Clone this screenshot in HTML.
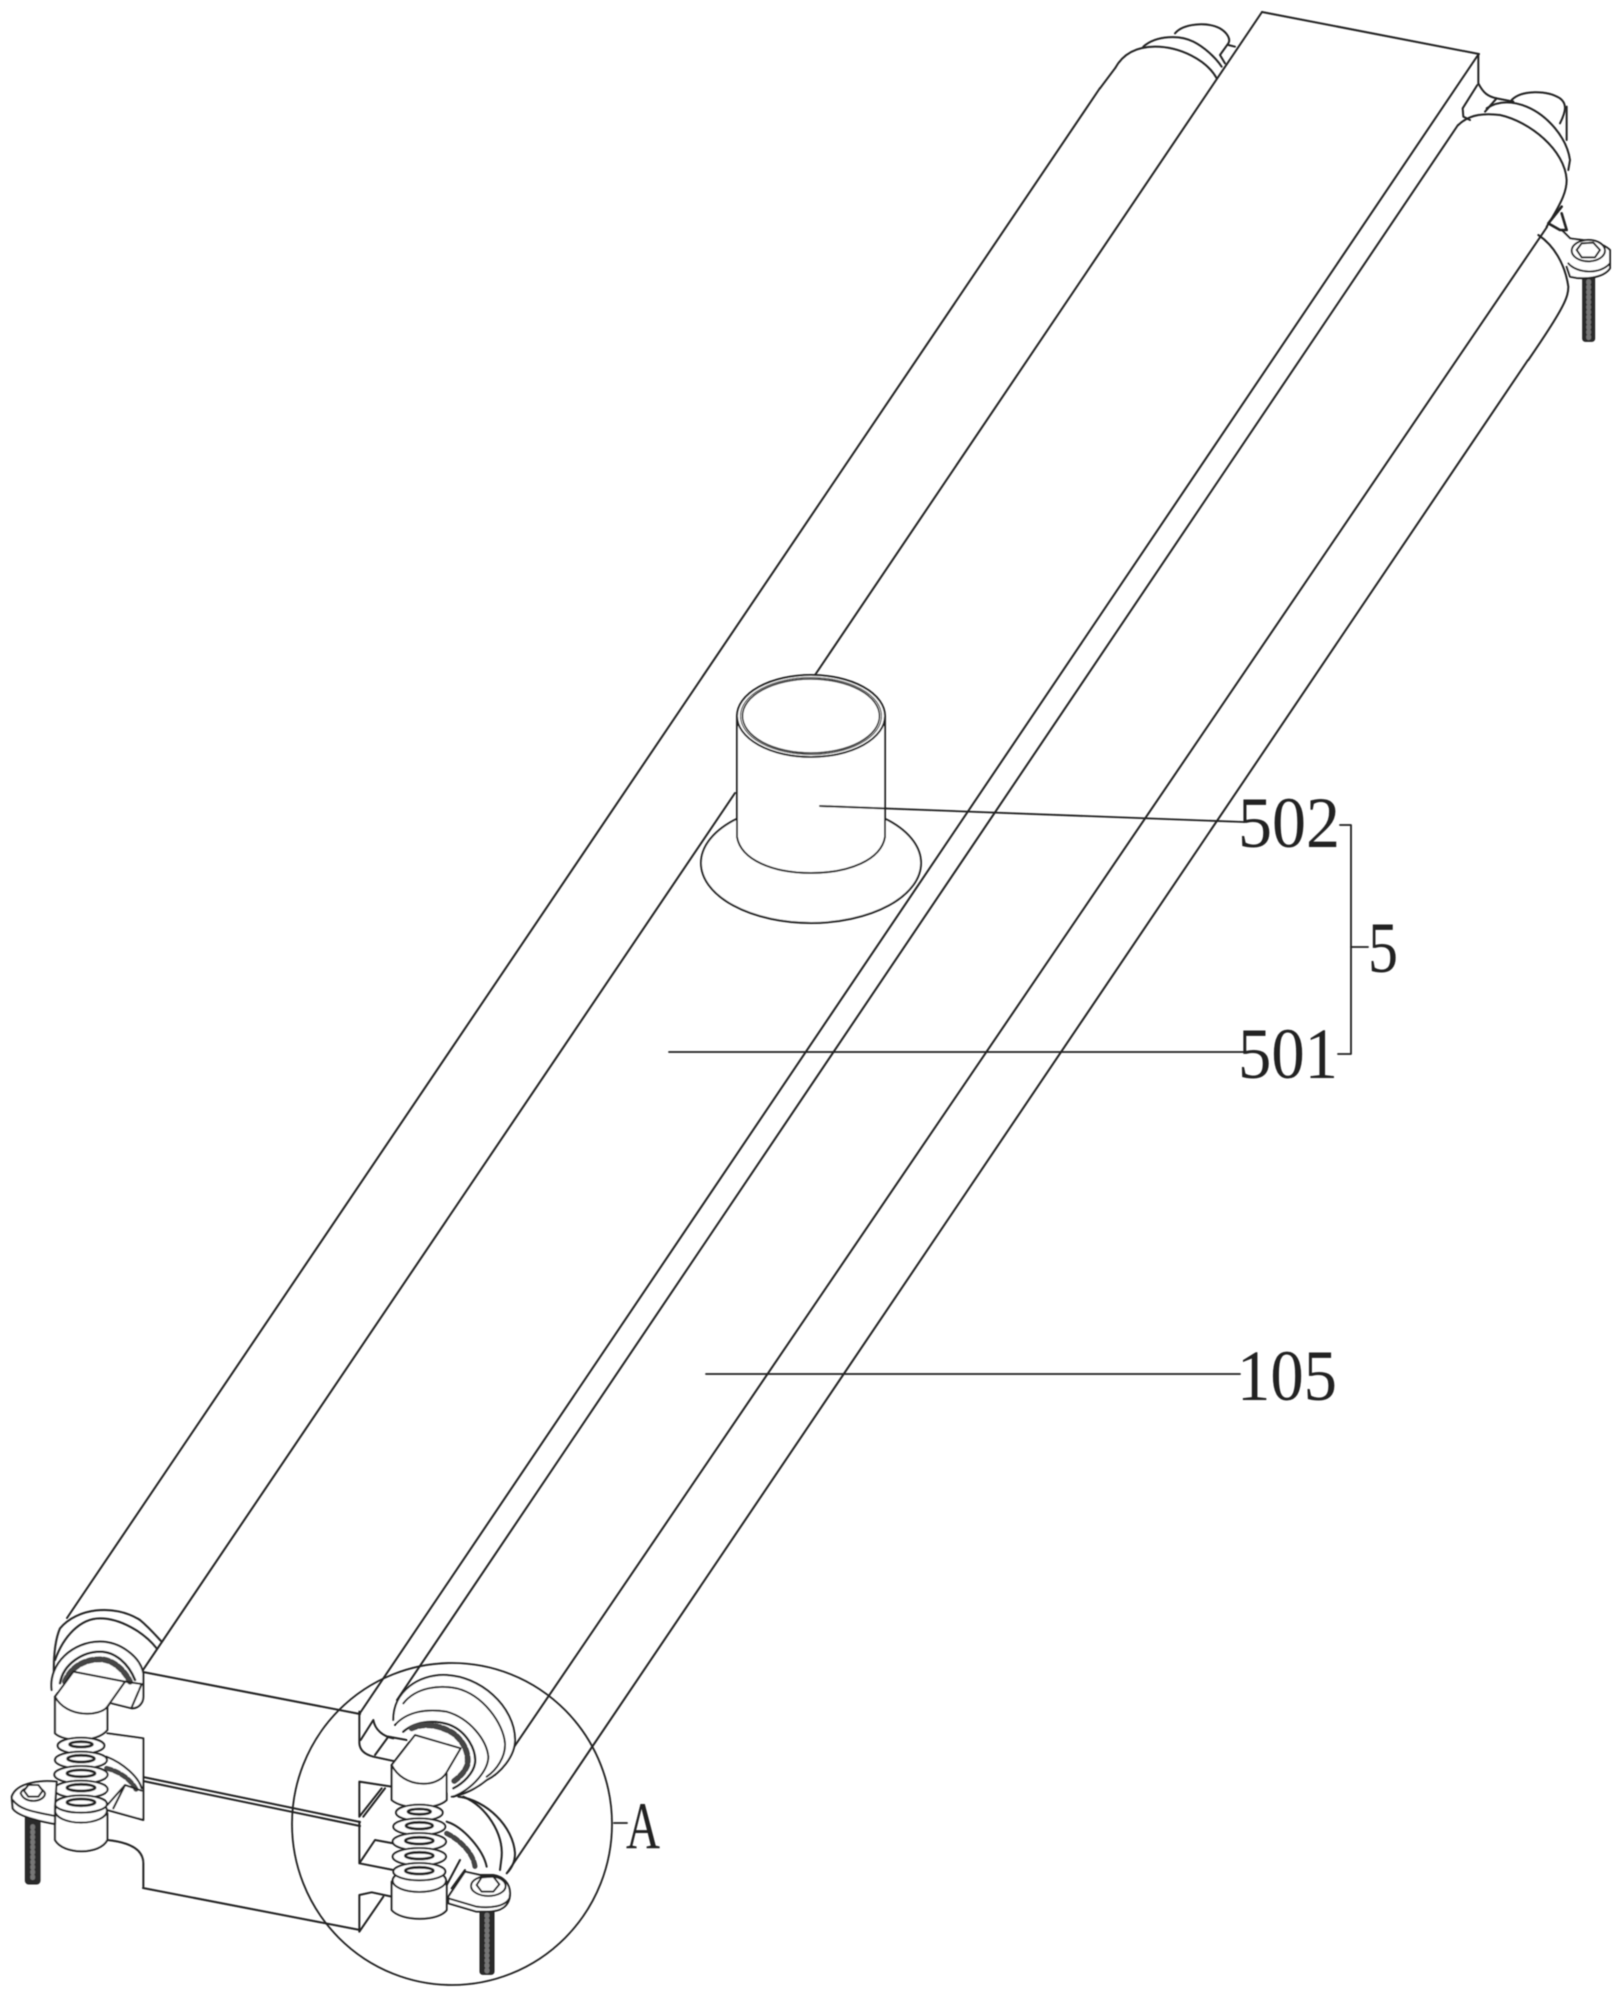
<!DOCTYPE html>
<html><head><meta charset="utf-8">
<style>
html,body{margin:0;padding:0;background:#fff}
svg{display:block}
path,line,ellipse,rect,polygon,polyline{vector-effect:non-scaling-stroke;stroke-linecap:round;stroke-linejoin:round}
text{font-family:"Liberation Serif",serif;fill:#222}
</style></head><body>
<svg width="1622" height="1996" viewBox="0 0 1622 1996" xmlns="http://www.w3.org/2000/svg">
<defs><filter id="b" x="0" y="0" width="1622" height="1996" filterUnits="userSpaceOnUse"><feGaussianBlur stdDeviation="0.45"/></filter></defs>
<rect width="1622" height="1996" fill="#fff"/>
<g filter="url(#b)" fill="none" stroke="#222" stroke-width="2">
<!-- long edges -->
<line x1="1100" y1="88" x2="67" y2="1618"/>
<line x1="1262" y1="12" x2="815" y2="675"/>
<line x1="735" y1="793" x2="143" y2="1670"/>
<line x1="1478" y1="55" x2="360" y2="1713"/>
<line x1="1458" y1="125" x2="397" y2="1700"/>
<line x1="1547" y1="227" x2="495" y2="1775"/>
<line x1="1528" y1="360" x2="507" y2="1873"/>
<line x1="1262" y1="12" x2="1479" y2="54"/>
<!-- block front -->
<line x1="143" y1="1672" x2="360" y2="1714"/>
<line x1="143" y1="1777" x2="360" y2="1822"/>
<line x1="143" y1="1781" x2="360" y2="1826"/>
<line x1="143" y1="1888" x2="360" y2="1930"/>
<!-- leaders -->
<g stroke-width="1.8">
<line x1="820" y1="806" x2="1244" y2="822"/>
<line x1="669" y1="1052" x2="1244" y2="1052"/>
<line x1="706" y1="1374" x2="1240" y2="1374"/>
<polyline points="1340,825 1351,825 1351,1054 1338,1054"/>
<line x1="1351" y1="947" x2="1368" y2="947"/>
<line x1="614" y1="1823" x2="627" y2="1823"/>
<ellipse cx="452" cy="1824" rx="160" ry="161"/>
</g>
<!-- cup -->
<ellipse cx="811" cy="863" rx="110" ry="60" fill="#fff"/>
<path d="M737,716 V837 C741,860 773,873 811,873 C849,873 881,860 885,837 V716 Z" fill="#fff" stroke="#fff"/>
<line x1="820" y1="806" x2="886" y2="808.5"/>
<path d="M737,716 V837 C741,860 773,873 811,873 C849,873 881,860 885,837 V716"/>
<ellipse cx="811" cy="716" rx="74" ry="41" fill="#fff" stroke-width="2"/>
<ellipse cx="811" cy="716" rx="70.5" ry="38.5" stroke-width="1"/>
<ellipse cx="811" cy="716" rx="68.5" ry="37" stroke-width="1.6"/>
<!-- top right, coordinates 3x -->
<g transform="translate(1100 0) scale(.33333)">
<path d="M0,265 L45,205 C70,160 110,140 165,140 C240,140 320,180 350,235"/>
<path d="M130,140 C170,105 240,105 280,125 C310,140 345,170 365,200"/>
<path d="M225,100 C250,70 320,65 360,85 C385,100 392,120 385,130 L360,165 L375,190"/>
<path d="M385,135 L405,140"/>
<path d="M1135,165 L1135,250 C1150,280 1165,290 1190,295 L1240,305"/>
<path d="M1132,255 L1088,325 L1090,350 L1110,360"/>
<path d="M1190,295 L1155,335"/>
<path d="M1075,375 C1110,340 1160,340 1200,345 C1290,365 1395,450 1400,540 C1400,570 1390,600 1340,680"/>
<path d="M1160,325 C1190,305 1230,300 1280,320 C1340,345 1400,410 1410,480 L1405,510"/>
<path d="M1235,300 C1265,270 1340,270 1380,295 C1400,310 1400,330 1380,370"/>
<path d="M1400,320 V420"/>
<path d="M1315,705 C1360,735 1395,790 1405,860 C1405,890 1395,920 1285,1080"/>
<path d="M1385,620 L1345,670 L1380,690 L1400,690 L1385,640" stroke-width="2.6"/>
<rect x="1448" y="800" width="36" height="224" rx="8" fill="#2c2c2c" stroke-width="1"/>
<line x1="1466" y1="845" x2="1466" y2="1015" stroke="#777" stroke-width="5" stroke-dasharray="1 4"/>
<path d="M1385,690 L1410,715 C1430,720 1500,720 1530,750 L1530,805 C1510,835 1450,840 1410,830 L1400,800" fill="#fff"/>
<path d="M1405,790 C1430,820 1500,825 1530,790"/>
<ellipse cx="1465" cy="752" rx="50" ry="32" fill="#fff"/>
<polygon points="1430,750 1445,730 1480,728 1500,750 1485,772 1445,772" fill="#fff"/>
</g>
<!-- left assembly, 3x -->
<g transform="translate(0 1600) scale(.33333)">
<path d="M162,250 C160,200 160,130 180,85 C230,25 340,10 420,60 C450,85 475,115 485,125"/>
<path d="M165,180 C190,110 240,55 300,55 C360,55 430,95 470,145"/>
<path d="M155,270 C145,190 220,125 300,125 C360,125 420,170 430,220 V290 C430,310 415,325 395,325 L335,310" fill="#fff"/>
<path d="M180,250 C190,190 250,155 300,155 C345,155 385,190 405,240" stroke-width="2.4"/>
<path d="M195,245 C215,195 260,178 300,178 C335,178 370,205 390,245" stroke-width="6" stroke="#444" stroke-dasharray="5 3"/>
<path d="M375,245 L425,252 L395,322"/>
<path d="M322,400 L430,415 V660 L322,630" fill="#fff"/>
<path d="M320,470 C370,490 415,530 425,565"/>
<path d="M320,505 C360,515 395,540 410,572" stroke-width="5" stroke="#444" stroke-dasharray="5 3"/>
<path d="M322,615 L375,555 L425,572"/>
<path d="M340,625 L375,555"/>
<path d="M322,720 C370,725 430,740 430,790 V860"/>
<path d="M165,290 V400 C190,425 290,430 322,390 V320 L165,290" fill="#fff"/>
<path d="M165,290 L220,215 L375,245 L322,320 C300,350 200,355 165,290 Z" fill="#fff"/>
<path d="M165,640 V720 C190,765 300,765 322,720 V640 Z" fill="#fff"/>
<ellipse cx="243" cy="632" rx="78" ry="36" fill="#fff"/>
<g fill="#fff">
<ellipse cx="243" cy="437" rx="70" ry="24"/><ellipse cx="243" cy="480" rx="78" ry="25"/><ellipse cx="243" cy="524" rx="80" ry="26"/><ellipse cx="243" cy="568" rx="80" ry="26"/><ellipse cx="243" cy="612" rx="78" ry="26"/>
</g>
<g stroke-width="2.8"><ellipse cx="243" cy="607" rx="42" ry="10"/><ellipse cx="243" cy="563" rx="42" ry="10"/><ellipse cx="243" cy="520" rx="42" ry="10"/><ellipse cx="243" cy="476" rx="40" ry="10"/><ellipse cx="243" cy="433" rx="34" ry="8"/></g>
<rect x="76" y="640" width="44" height="212" rx="10" fill="#2c2c2c" stroke-width="1"/>
<line x1="98" y1="680" x2="98" y2="845" stroke="#777" stroke-width="5" stroke-dasharray="1 4"/>
<path d="M170,545 C130,540 50,545 35,590 L38,625 C50,645 100,660 165,672 L165,620 Z" fill="#fff"/>
<path d="M38,600 C60,630 100,635 165,648"/>
<path d="M62,580 C70,555 125,555 135,580 C135,605 75,615 62,580 Z"/>
<polygon points="72,572 85,555 115,555 128,572 115,590 85,590" fill="#fff"/>
</g>
<!-- right assembly, 3x -->
<g transform="translate(340 1640) scale(.33333)">
<path d="M58,215 V310 C60,335 80,345 100,350 L170,365"/>
<path d="M105,345 L145,290 L200,300"/>
<path d="M62,300 L100,240 C105,270 130,290 160,295"/>
<path d="M58,425 V530 M58,425 L155,440 M58,530 L125,445 M70,530 L135,445"/>
<path d="M58,545 V670 L160,690 M58,670 L105,600 L160,610"/>
<path d="M58,875 V765 L95,757 L155,770 M58,875 L130,770"/>
<path d="M160,240 C160,150 240,105 310,105 C420,105 525,200 525,300 C525,350 480,400 440,420 C410,445 370,465 335,470" fill="#fff"/>
<path d="M190,190 C230,140 300,135 350,145 C430,165 490,250 495,310 C497,350 470,390 440,410"/>
<path d="M165,255 C200,215 260,205 320,215 C390,235 440,300 445,350 C445,390 400,445 340,470"/>
<path d="M190,275 C230,240 290,240 330,255 C380,275 410,330 405,370 C400,400 370,430 340,445" stroke-width="2.4"/>
<path d="M215,265 C250,248 300,255 340,280 C372,305 388,340 382,375 C375,395 360,410 340,425" stroke-width="6" stroke="#444" stroke-dasharray="5 3"/>
<path d="M355,470 C440,480 520,560 525,640 C525,670 510,690 500,700" />
<path d="M370,470 C440,500 490,580 485,650 L480,690"/>
<path d="M320,545 C370,560 430,630 440,680"/>
<path d="M320,580 C360,600 400,640 405,680" stroke-width="5" stroke="#444" stroke-dasharray="5 3"/>
<path d="M155,375 V480 C190,510 290,510 320,480 V400 Z" fill="#fff"/>
<path d="M155,375 L225,285 L362,325 L318,400 C290,445 190,445 155,375 Z" fill="#fff"/>
<path d="M155,725 V810 C185,845 295,845 320,810 V725 Z" fill="#fff"/>
<ellipse cx="238" cy="722" rx="80" ry="34" fill="#fff"/>
<g fill="#fff">
<ellipse cx="238" cy="518" rx="70" ry="24"/><ellipse cx="238" cy="560" rx="78" ry="25"/><ellipse cx="238" cy="605" rx="80" ry="26"/><ellipse cx="238" cy="650" rx="80" ry="26"/><ellipse cx="238" cy="695" rx="78" ry="26"/>
</g>
<g stroke-width="2.8"><ellipse cx="238" cy="692" rx="42" ry="10"/><ellipse cx="238" cy="647" rx="42" ry="10"/><ellipse cx="238" cy="602" rx="42" ry="10"/><ellipse cx="238" cy="557" rx="40" ry="10"/><ellipse cx="238" cy="515" rx="34" ry="8"/></g>
<path d="M320,735 L360,660 M335,745 L375,690"/>
<rect x="420" y="780" width="42" height="223" rx="8" fill="#2c2c2c" stroke-width="1"/>
<line x1="441" y1="825" x2="441" y2="995" stroke="#777" stroke-width="5" stroke-dasharray="1 4"/>
<path d="M375,695 L420,705 L460,705 C490,710 510,730 510,760 C510,800 480,815 440,815 L410,815 L325,790 V770 Z" fill="#fff"/>
<path d="M325,775 L410,800 C450,805 495,800 508,775"/>
<ellipse cx="445" cy="738" rx="52" ry="30"/>
<polygon points="410,735 425,712 460,710 478,733 460,755 425,755" fill="#fff"/>
</g>
<!-- labels -->
<g stroke="none">
<text x="1238" y="847" font-size="72" textLength="102" lengthAdjust="spacingAndGlyphs">502</text>
<text x="1238" y="1078" font-size="72" textLength="100" lengthAdjust="spacingAndGlyphs">501</text>
<text x="1368" y="972" font-size="72" textLength="30" lengthAdjust="spacingAndGlyphs">5</text>
<text x="1237" y="1400" font-size="72" textLength="100" lengthAdjust="spacingAndGlyphs">105</text>
<text x="626" y="1848" font-size="67" textLength="34" lengthAdjust="spacingAndGlyphs">A</text>
</g>
</g>
</svg>
</body></html>
